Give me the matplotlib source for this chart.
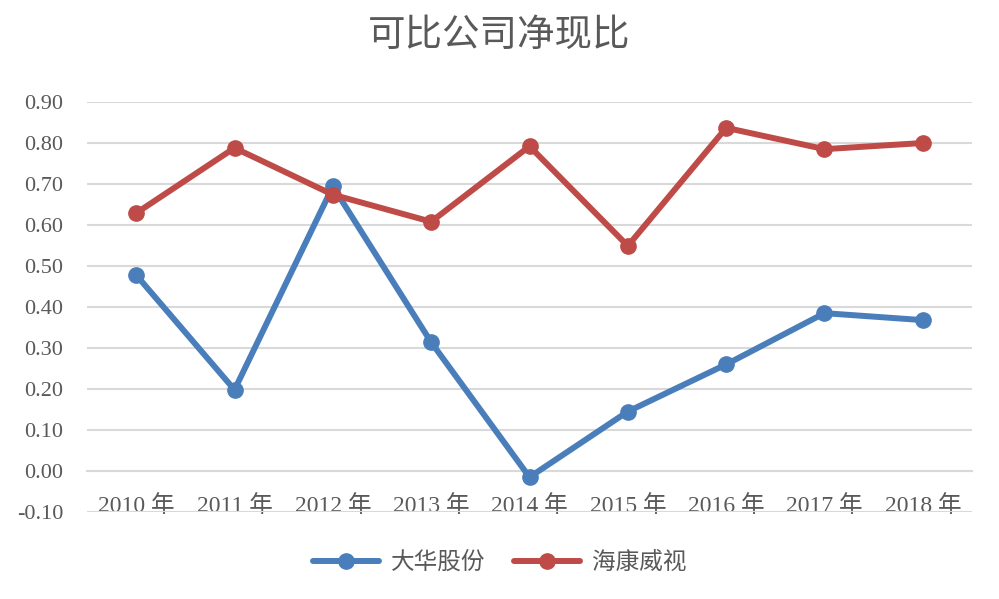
import matplotlib
matplotlib.use("Agg")
import matplotlib.pyplot as plt

years = ["2010 年", "2011 年", "2012 年", "2013 年", "2014 年",
         "2015 年", "2016 年", "2017 年", "2018 年"]
dahua = [0.478, 0.198, 0.694, 0.314, -0.015, 0.145, 0.260, 0.385, 0.368]
hikvision = [0.629, 0.788, 0.674, 0.608, 0.792, 0.549, 0.837, 0.785, 0.800]
series_names = ["大华股份", "海康威视"]
yticks = [-0.10, 0.00, 0.10, 0.20, 0.30, 0.40, 0.50, 0.60, 0.70, 0.80, 0.90]

FONT = ["Liberation Serif", "Noto Sans CJK SC", "DejaVu Sans"]
plt.rcParams['font.family'] = FONT
TXT = "#595959"

fig = plt.figure(figsize=(9.99, 5.99), dpi=100)
ax = fig.add_axes([87/999, 1-512/599, (972-87)/999, (512-102)/599])

x = list(range(len(years)))
blue = "#4A7EBB"
red = "#BE4B48"
ax.plot(x, dahua, color=blue, lw=4.3, marker="o", ms=11, label=series_names[0],
        solid_capstyle="round", zorder=3)
ax.plot(x, hikvision, color=red, lw=4.3, marker="o", ms=11, label=series_names[1],
        solid_capstyle="round", zorder=3)

ax.set_xlim(-0.5, len(years) - 0.5)
ax.set_ylim(-0.10, 0.90)
ax.set_yticks(yticks)
ax.set_yticklabels([f"{v:.2f}" for v in yticks])
ax.yaxis.grid(True, color="#D9D9D9", lw=1.5)
ax.set_axisbelow(True)

ax.set_xticks(x)
ax.set_xticklabels(years)
for s in ["top", "right", "left"]:
    ax.spines[s].set_visible(False)
ax.spines["bottom"].set_position(("data", 0))
ax.spines["bottom"].set_color("#D9D9D9")
ax.spines["bottom"].set_linewidth(1.5)
ax.tick_params(axis="x", length=0, labelsize=17, colors=TXT, pad=17)
ax.tick_params(axis="y", length=0, labelsize=16, colors=TXT, pad=17)

fig.text(0.5, 1-35/599, "可比公司净现比", ha="center", va="center",
         fontsize=27, color=TXT, fontweight="light",
         family=["Noto Sans CJK SC", "DejaVu Sans"])

leg = fig.legend(loc="center", bbox_to_anchor=(0.5, 1-563/599), ncol=2,
                 frameon=False, fontsize=17, handlelength=2.8, columnspacing=1.2,
                 handletextpad=0.5, labelcolor=TXT)

fig.savefig("out.png", dpi=100)
